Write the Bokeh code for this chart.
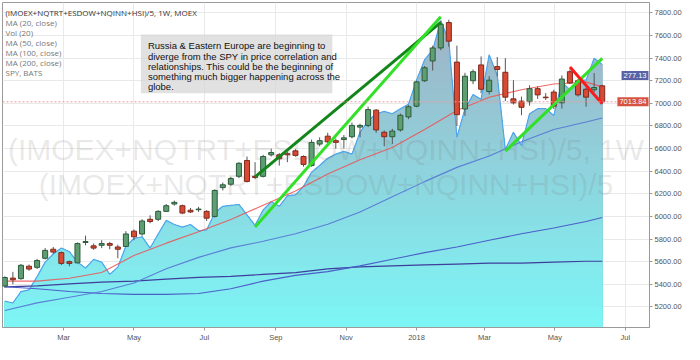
import numpy as np
import pandas as pd
from bokeh.plotting import figure
from bokeh.models import Range1d, FixedTicker, NumeralTickFormatter, Label, BoxAnnotation, Span
from bokeh.core.properties import value
from bokeh.embed import file_html
from bokeh.resources import INLINE

# ---------------- data ----------------
title_text = "(IMOEX+NQTRT+ESDOW+NQINN+HSI)/5, 1W, MOEX"
legend_items = ["MA (20, close)", "Vol (20)", "MA (50, close)", "MA (100, close)",
                "MA (200, close)", "SPY, BATS"]
watermark_lines = ["(IMOEX+NQTRT+ESDOW+NQINN+HSI)/5, 1W", "(IMOEX+NQTRT+ESDOW+NQINN+HSI)/5"]
note_lines = ["Russia & Eastern Europe are beginning to",
              "diverge from the SPY in price correlation and",
              "relationships.  This could be the beginning of",
              "something much bigger happening across the",
              "globe."]

first_bar = "2017-01-09"   # weekly bars, Mondays
opens = [5385, 5455, 5450, 5560, 5550, 5630, 5710, 5680, 5600, 5590,
         5770, 5740, 5745, 5760, 5730, 5735, 5870, 5845, 5975, 5975,
         6045, 6110, 6095, 6055, 6060, 6045, 6000, 6255, 6285, 6355,
         6495, 6355, 6355, 6545, 6545, 6555, 6580, 6530, 6450, 6640,
         6710, 6670, 6680, 6705, 6790, 6805, 6940, 6745, 6705, 6765,
         6880, 6975, 7200, 7375, 7490, 7715, 7365, 6950, 7200, 7340,
         7105, 7325, 7275, 7040, 7020, 7015, 7130, 7055, 7100, 7005,
         7280, 7200, 7125, 7120, 7155]
highs = [5470, 5510, 5580, 5575, 5625, 5720, 5730, 5690, 5610, 5770,
         5830, 5760, 5790, 5775, 5750, 5870, 5885, 5975, 6010, 6055,
         6110, 6140, 6105, 6075, 6085, 6055, 6240, 6300, 6350, 6480,
         6530, 6480, 6545, 6600, 6560, 6570, 6595, 6540, 6680, 6700,
         6740, 6690, 6720, 6830, 6820, 6970, 6950, 6760, 6775, 6910,
         6985, 7200, 7330, 7510, 7730, 7740, 7510, 7270, 7300, 7415,
         7240, 7410, 7400, 7205, 7060, 7160, 7150, 7090, 7120, 7247,
         7300, 7215, 7140, 7268, 7165]
lows = [5370, 5400, 5440, 5520, 5535, 5620, 5670, 5570, 5560, 5585,
        5745, 5705, 5720, 5710, 5630, 5730, 5790, 5830, 5940, 5960,
        6040, 6095, 6020, 6030, 6040, 5960, 5990, 6230, 6270, 6340,
        6300, 6330, 6345, 6530, 6450, 6480, 6530, 6440, 6440, 6620,
        6650, 6600, 6600, 6690, 6700, 6790, 6740, 6620, 6640, 6750,
        6860, 6965, 7190, 7290, 7470, 7500, 6800, 6890, 7170, 7090,
        7080, 7240, 7020, 6990, 6895, 6980, 7040, 7030, 6950, 6954,
        7170, 7060, 6970, 7100, 6995]
closes = [5460, 5440, 5568, 5535, 5610, 5700, 5685, 5585, 5585, 5760,
          5778, 5720, 5760, 5745, 5710, 5845, 5820, 5960, 5955, 6045,
          6095, 6125, 6030, 6040, 6065, 5985, 6230, 6280, 6335, 6470,
          6310, 6345, 6530, 6565, 6510, 6545, 6540, 6460, 6655, 6670,
          6660, 6655, 6695, 6805, 6805, 6945, 6765, 6705, 6755, 6895,
          6970, 7190, 7315, 7490, 7700, 7550, 6900, 7240, 7280, 7125,
          7205, 7300, 7055, 7005, 6965, 7130, 7075, 7050, 6975, 7215,
          7180, 7075, 7055, 7140, 7013.84]
last_price = 7013.84

spy_close = [225.0, 224.6, 227.1, 227.5, 230.4, 233.6, 235.4, 236.7, 235.9, 233.6,
             232.3, 234.2, 233.6, 230.9, 232.5, 237.1, 238.8, 239.2, 236.7, 239.8,
             242.8, 241.9, 241.3, 241.9, 240.5, 240.7, 244.4, 245.9, 246.1, 246.3,
             244.0, 241.7, 245.1, 246.9, 245.9, 248.2, 248.4, 250.3, 253.4, 254.9,
             256.5, 257.4, 258.0, 257.4, 262.2, 264.7, 266.3, 266.8, 266.3, 267.4,
             268.4, 273.7, 278.2, 280.3, 286.8, 282.4, 261.1, 267.4, 270.5, 269.5,
             279.3, 274.7, 258.4, 262.2, 259.3, 266.3, 267.4, 267.4, 265.9, 273.2,
             271.6, 273.7, 273.7, 278.5, 277.13]
spy_last = 277.13

ma_bars = [0, 4, 8, 12, 16, 20, 24, 28, 32, 36, 40, 44, 48, 52, 56, 60, 64, 68, 72, 74]
ma20 = [5428, 5428, 5453, 5504, 5655, 5764, 5864, 5973, 6099, 6225,
        6375, 6501, 6610, 6769, 6937, 7054, 7121, 7171, 7188, 7146]
ma50 = [5169, 5236, 5286, 5336, 5412, 5537, 5638, 5722, 5780, 5847,
        5931, 6040, 6174, 6308, 6434, 6535, 6660, 6769, 6836, 6870]
ma100 = [5378, 5361, 5336, 5319, 5311, 5311, 5319, 5361, 5428, 5479,
         5512, 5563, 5621, 5680, 5730, 5789, 5847, 5898, 5956, 5990]
ma200 = [5378, 5386, 5403, 5420, 5428, 5445, 5462, 5470, 5487, 5504,
         5537, 5554, 5563, 5571, 5579, 5588, 5588, 5596, 5604, 5604]

tick_dates = ["2017-03-01", "2017-05-01", "2017-07-01", "2017-09-01", "2017-11-01",
              "2018-01-01", "2018-03-01", "2018-05-01", "2018-07-01"]
tick_labels = ["Mar", "May", "Jul", "Sep", "Nov", "2018", "Mar", "May", "Jul"]
price_ticks = [5200, 5400, 5600, 5800, 6000, 6200, 6400, 6600, 6800, 7000, 7200, 7400, 7600, 7800]

trend_dark_dates = ["2017-08-14", "2018-01-22"]
trend_dark_prices = [6350, 7716]
trend_light1_dates = ["2017-08-14", "2018-01-22"]
trend_light1_prices = [5906, 7766]
trend_light2_dates = ["2018-03-19", "2018-06-11"]
trend_light2_prices = [6577, 7398]
trend_red_dates = ["2018-05-14", "2018-06-11"]
trend_red_prices = [7322, 6996]

note_box_dates = ["2017-05-07", "2017-10-20"]
note_box_prices = [7090, 7610]

view_dates = ["2017-01-07", "2018-07-22"]
view_prices = [5018, 7892]
spy_view = [219.2, 290.8]

# ---------------- helpers ----------------
def ms(lst):
    return (pd.to_datetime(lst, format="%Y-%m-%d").asi8 // 10**6).astype(float)

WEEK = 7 * 24 * 3600 * 1000.0
n = len(closes)
bar_x = ms([first_bar])[0] + np.arange(n) * WEEK
o = np.array(opens, float)
c = np.array(closes, float)
up = c >= o

x0, x1 = ms(view_dates)
p = figure(width=684, height=344, x_axis_type="datetime",
           x_range=Range1d(x0, x1), y_range=Range1d(*view_prices),
           y_axis_location="right", output_backend="svg", toolbar_location=None,
           min_border_left=2, min_border_top=2, min_border_right=0, min_border_bottom=0,
           background_fill_color="white", border_fill_color="white")
p.extra_y_ranges = {"spy": Range1d(*spy_view)}
p.outline_line_color = "#9a9a9a"

# axes
tick_ms = ms(tick_dates)
p.xaxis.ticker = FixedTicker(ticks=list(tick_ms))
p.xaxis.major_label_overrides = {float(t): l for t, l in zip(tick_ms, tick_labels)}
p.yaxis.ticker = FixedTicker(ticks=price_ticks)
p.yaxis.formatter = NumeralTickFormatter(format="0.00")
for ax in (p.xaxis, p.yaxis):
    ax.major_label_text_font = "Liberation Sans"
    ax.major_label_text_font_size = "7.5px"
    ax.major_label_text_color = "#555555"
    ax.axis_line_color = "#9a9a9a"
    ax.major_tick_line_color = "#9a9a9a"
    ax.major_tick_in = 0
    ax.major_tick_out = 3
    ax.minor_tick_line_color = None
    ax.major_label_standoff = 2
p.xgrid.ticker = FixedTicker(ticks=list(tick_ms))
p.ygrid.ticker = FixedTicker(ticks=price_ticks)
p.xgrid.grid_line_color = "#e9e9e9"
p.ygrid.grid_line_color = "#e9e9e9"

# SPY area with vertical gradient (bands), exact crossing points inserted
spy = np.array(spy_close, float)
lo, hi = spy_view
nb = 32
bounds = np.linspace(lo, hi, nb + 1)
rx = [bar_x[0]]
ry = [spy[0]]
for i in range(n - 1):
    ya, yb = spy[i], spy[i + 1]
    cr = [b for b in bounds if min(ya, yb) < b < max(ya, yb)]
    cr.sort(reverse=yb < ya)
    for b in cr:
        f = (b - ya) / (yb - ya)
        rx.append(bar_x[i] + f * WEEK)
        ry.append(b)
    rx.append(bar_x[i + 1])
    ry.append(yb)
rx = np.array(rx)
ry = np.array(ry)
bottom_rgb = (124, 246, 246)
top_rgb = (162, 174, 194)
for j in range(nb - 1, -1, -1):
    f = (j + 0.5) / nb
    col = "#%02x%02x%02x" % tuple(int(round(a + (b - a) * f)) for a, b in zip(bottom_rgb, top_rgb))
    p.varea(x=rx, y1=lo, y2=np.minimum(ry, bounds[j + 1]), fill_color=col, y_range_name="spy")
p.line(bar_x, spy, line_color="#4fa6ec", line_width=1.2, y_range_name="spy")

# watermark
yr0, yr1 = view_prices
xmid = (x0 + x1) / 2
for k, (txt, frac) in enumerate(zip(watermark_lines, [0.452, 0.56])):
    p.text(x=[xmid], y=[yr1 - frac * (yr1 - yr0)], text=[txt],
           text_font=value("Liberation Sans"), text_font_size="30px",
           text_color="#777777", text_alpha=0.17, text_align="center", text_baseline="middle")

# moving averages
ma_x = bar_x[ma_bars]
p.line(ma_x, ma200, line_color="#3e3e9c", line_width=1.2)
p.line(ma_x, ma100, line_color="#4b5fc8", line_width=1.1)
p.line(ma_x, ma50, line_color="#5a7fd6", line_width=1.1)
p.line(ma_x, ma20, line_color="#ee5050", line_width=1.1, line_alpha=0.85)

# last price line
p.add_layout(Span(location=last_price, dimension="width", line_color="#f19a9a",
                  line_dash="2 2", line_width=1))

# candles
p.segment(x0=bar_x, y0=lows, x1=bar_x, y1=highs, line_color="#555555", line_width=1)
body_fill = np.where(up, "#5f9e73", "#d84a33")
body_line = np.where(up, "#2b5b3a", "#7e2a1d")
p.vbar(x=bar_x, width=WEEK * 0.62, top=np.maximum(o, c), bottom=np.minimum(o, c),
       fill_color=list(body_fill), line_color=list(body_line), line_width=1)

# trend lines
p.line(ms(trend_dark_dates), trend_dark_prices, line_color="#12861a", line_width=3)
p.line(ms(trend_light1_dates), trend_light1_prices, line_color="#33e028", line_width=3)
p.line(ms(trend_light2_dates), trend_light2_prices, line_color="#33e028", line_width=3)
p.line(ms(trend_red_dates), trend_red_prices, line_color="#ff1a1a", line_width=3)

# note box
nb_x = ms(note_box_dates)
p.add_layout(BoxAnnotation(left=nb_x[0], right=nb_x[1], bottom=note_box_prices[0],
                           top=note_box_prices[1], fill_color="#d6d6d6", fill_alpha=0.72,
                           line_color=None))
for i, line in enumerate(note_lines):
    p.add_layout(Label(x=nb_x[0], y=note_box_prices[1], x_offset=7, y_offset=-(6 + i * 10.2),
                       text=line, text_font="Liberation Sans", text_font_size="9.5px",
                       text_color="#111111", text_baseline="top", text_align="left"))

# legend (text only)
p.add_layout(Label(x=x0, y=yr1, x_offset=3, y_offset=-4, text=title_text,
                   text_font="Open Sans", text_font_size="8px", text_color="#333333",
                   text_baseline="top"))
for i, item in enumerate(legend_items):
    p.add_layout(Label(x=x0, y=yr1, x_offset=3, y_offset=-(14 + i * 10), text=item,
                       text_font="Open Sans", text_font_size="8px", text_color="#777777",
                       text_baseline="top"))

# value tags at the right edge of the frame
p.add_layout(Label(x=x1, y=last_price, x_offset=-1, text="%.2f" % last_price,
                   text_font="Liberation Sans", text_font_size="7.5px", text_color="white",
                   background_fill_color="#d5533f", text_baseline="middle",
                   text_align="right", padding=2))
p.add_layout(Label(x=x1, y=spy_last, y_range_name="spy", x_offset=-1, y_offset=-11,
                   text="%.2f" % spy_last,
                   text_font="Liberation Sans", text_font_size="7.5px", text_color="white",
                   background_fill_color="#5a62a6", text_baseline="middle",
                   text_align="right", padding=2))

open("out.html", "w").write(file_html(p, INLINE))
